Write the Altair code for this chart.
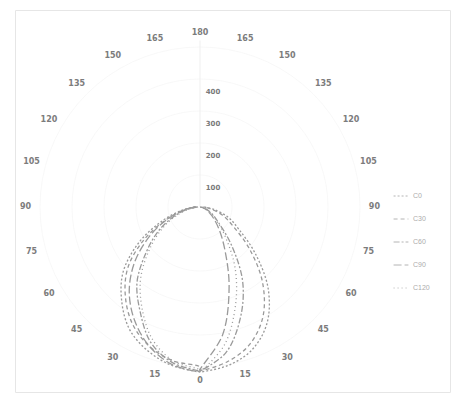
import altair as alt
import pandas as pd

# Polar luminous-intensity diagram (cd), gamma measured from the downward axis.
GAMMA = [0, 10, 20, 30, 40, 50, 60, 70, 80, 90]
SERIES = ["C0", "C30", "C60", "C90", "C120"]

# Intensity (cd) per C-plane, left half and right half of the curve.
C0_LEFT = [516, 503, 478, 441, 381, 313, 219, 125, 56, 16]
C0_RIGHT = [516, 503, 475, 419, 331, 225, 141, 94, 44, 13]
C30_LEFT = [500, 488, 463, 422, 363, 294, 200, 109, 47, 13]
C30_RIGHT = [509, 491, 456, 394, 303, 200, 119, 75, 34, 9]
C60_LEFT = [513, 494, 450, 375, 306, 219, 150, 88, 38, 9]
C60_RIGHT = [513, 463, 369, 266, 150, 75, 44, 22, 9, 3]
C90_LEFT = [513, 500, 463, 409, 344, 266, 181, 106, 47, 13]
C90_RIGHT = [509, 406, 266, 156, 94, 56, 31, 16, 6, 0]
C120_LEFT = [509, 488, 438, 363, 288, 206, 138, 78, 31, 6]
C120_RIGHT = [513, 438, 325, 219, 125, 69, 38, 19, 6, 3]

RING_VALUES = [100, 200, 300, 400]
ANGLE_TICKS = [0, 15, 30, 45, 60, 75, 90, 105, 120, 135, 150, 165, 180]
LABEL_RADIUS = 545

DASHES = [[2, 2], [4, 3], [6, 2, 2, 2], [8, 3], [1, 3]]

halves = {
    "C0": (C0_LEFT, C0_RIGHT),
    "C30": (C30_LEFT, C30_RIGHT),
    "C60": (C60_LEFT, C60_RIGHT),
    "C90": (C90_LEFT, C90_RIGHT),
    "C120": (C120_LEFT, C120_RIGHT),
}

curve_rows = []
for name in SERIES:
    left, right = halves[name]
    i = 0
    for g, v in reversed(list(zip(GAMMA, left))):
        curve_rows.append({"series": name, "angle": -g, "cd": v, "i": i})
        i += 1
    for g, v in zip(GAMMA, right):
        curve_rows.append({"series": name, "angle": g, "cd": v, "i": i})
        i += 1
curves_df = pd.DataFrame(curve_rows)

ring_rows = []
for r in RING_VALUES + [500]:
    for a in range(0, 361, 5):
        ring_rows.append({"ring": r, "angle": a, "cd": r})
rings_df = pd.DataFrame(ring_rows)

label_rows = []
for a in ANGLE_TICKS:
    label_rows.append({"angle": a, "text": str(a), "cd": LABEL_RADIUS})
    if 0 < a < 180:
        label_rows.append({"angle": -a, "text": str(a), "cd": LABEL_RADIUS})
labels_df = pd.DataFrame(label_rows)

radial_df = pd.DataFrame({"cd": RING_VALUES, "text": [str(v) for v in RING_VALUES]})
axis_df = pd.DataFrame({"angle": [180, 180], "cd": [0, 520]})

# pixel scale: 0.32 px per cd; centre of the diagram at (185, 197) inside the plot
K = 0.32
W, H = 435, 382
CX, CY = 185, 197
xs = alt.Scale(domain=[-CX / K, (W - CX) / K], nice=False, zero=False)
ys = alt.Scale(domain=[-(H - CY) / K, CY / K], nice=False, zero=False)

to_x = "datum.cd * sin(datum.angle * PI / 180)"
to_y = "-datum.cd * cos(datum.angle * PI / 180)"

rings = alt.Chart(rings_df).transform_calculate(x=to_x, y=to_y).mark_line(
    color="#f6f6f6", strokeWidth=0.8
).encode(
    x=alt.X("x:Q", scale=xs, axis=None),
    y=alt.Y("y:Q", scale=ys, axis=None),
    detail="ring:N",
    order="angle:Q",
)

axis_line = alt.Chart(axis_df).transform_calculate(x=to_x, y=to_y).mark_line(
    color="#ebebeb", strokeWidth=0.8
).encode(
    x=alt.X("x:Q", scale=xs, axis=None),
    y=alt.Y("y:Q", scale=ys, axis=None),
    order="cd:Q",
)

curves = alt.Chart(curves_df).transform_calculate(x=to_x, y=to_y).mark_line(
    color="#9a9a9a", strokeWidth=1.3, interpolate="catmull-rom"
).encode(
    x=alt.X("x:Q", scale=xs, axis=None),
    y=alt.Y("y:Q", scale=ys, axis=None),
    order="i:Q",
    strokeDash=alt.StrokeDash(
        "series:N",
        scale=alt.Scale(domain=SERIES, range=DASHES),
        legend=alt.Legend(
            title=None,
            orient="none",
            legendX=378,
            legendY=178,
            symbolType="stroke",
            symbolSize=220,
            symbolStrokeColor="#b4b4b4",
            symbolStrokeWidth=1,
            labelFontSize=7,
            labelColor="#acacac",
            rowPadding=12,
        ),
    ),
)

angle_labels = alt.Chart(labels_df).transform_calculate(x=to_x, y=to_y).mark_text(
    fontSize=8, color="#7c7c7c", font="DejaVu Sans", fontWeight="bold"
).encode(
    x=alt.X("x:Q", scale=xs, axis=None),
    y=alt.Y("y:Q", scale=ys, axis=None),
    text="text:N",
)

radial_labels = alt.Chart(radial_df).transform_calculate(y="datum.cd").mark_text(
    fontSize=7, color="#7a7a7a", font="DejaVu Sans", fontWeight="bold", dx=13, dy=13
).encode(
    x=alt.value(CX),
    y=alt.Y("y:Q", scale=ys, axis=None),
    text="text:N",
)

chart = alt.layer(rings, axis_line, curves, angle_labels, radial_labels).properties(
    width=W,
    height=H,
    padding={"left": 15, "top": 10, "right": 6, "bottom": 5},
    autosize="none",
    background="white",
).configure_view(stroke="#e6e6e6", strokeWidth=1)

chart.save("out.html", embed_options={"renderer": "svg", "actions": False})
